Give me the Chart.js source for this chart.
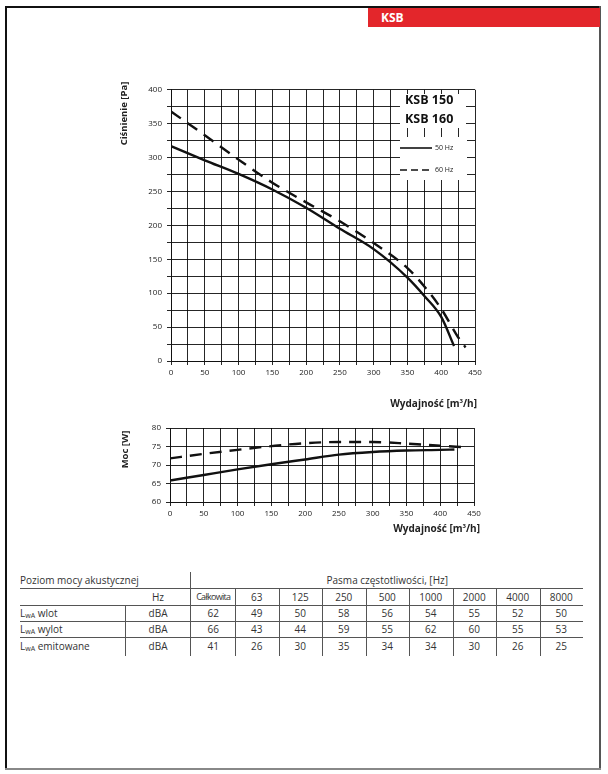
<!DOCTYPE html>
<html>
<head>
<meta charset="utf-8">
<script src="https://cdn.jsdelivr.net/npm/chart.js@4"></script>
<style>
  body { margin: 0; background: #fff; font-family: "Open Sans", sans-serif; color: #222; }
  #page { position: relative; width: 608px; height: 774px; overflow: hidden; }
  .abs { position: absolute; }
  .frame-top { left: 6px; top: 6px; width: 594px; height: 2px; background: #111; }
  .frame-left { left: 5px; top: 6px; width: 2px; height: 764px; background: #111; }
  .frame-right { left: 599px; top: 6px; width: 2px; height: 764px; background: #555; }
  .frame-bottom { left: 5px; top: 768px; width: 596px; height: 2px; background: #888; }
  .banner { left: 368px; top: 8px; width: 232px; height: 19px; background: #e3262b; color: #fff;
            font-weight: 700; font-size: 12px; line-height: 19px; padding-left: 13px; box-sizing: border-box; }
  .ytitle { font-weight: 700; font-size: 9.5px; white-space: nowrap; transform: rotate(-90deg); transform-origin: center center; }
  .xtitle { font-weight: 700; font-size: 10px; white-space: nowrap; }
  .lgbox { background: #fff; }
  .ksb { font-weight: 700; font-size: 12.5px; line-height: 16px; color: #111; }
  .hz { font-size: 7px; color: #222; }
  canvas { position: absolute; }
  .cell { position: absolute; font-size: 10px; color: #333; text-align: center; white-space: nowrap; }
  .hl { position: absolute; height: 1px; background: #555; }
  .vl { position: absolute; width: 1px; background: #555; }
  sub { font-size: 7px; vertical-align: -1px; }
</style>
</head>
<body>
<div id="page">
  <div class="abs frame-top"></div>
  <div class="abs frame-left"></div>
  <div class="abs frame-right"></div>
  <div class="abs frame-bottom"></div>
  <div class="abs banner">KSB</div>

  <canvas id="pressChart" width="400" height="320" style="left:100px;top:80px;"></canvas>
  <canvas id="powerChart" width="400" height="130" style="left:100px;top:415px;"></canvas>

  <div class="abs ytitle" style="left:88px;top:107px;width:70px;text-align:center;">Ciśnienie [Pa]</div>
  <div class="abs xtitle" style="left:377px;top:396px;width:100px;text-align:right;">Wydajność [m<sup style="font-size:6px">3</sup>/h]</div>
  <div class="abs ytitle" style="left:99px;top:443px;width:50px;text-align:center;">Moc [W]</div>
  <div class="abs xtitle" style="left:380px;top:521px;width:100px;text-align:right;">Wydajność [m<sup style="font-size:6px">3</sup>/h]</div>

  <div class="abs lgbox" style="left:400px;top:94px;width:66px;height:34px;"></div>
  <div class="abs lgbox" style="left:400px;top:137px;width:67px;height:43px;"></div>
  <div class="abs ksb" style="left:405px;top:92px;">KSB 150</div>
  <div class="abs ksb" style="left:405px;top:111px;">KSB 160</div>
  <svg class="abs" style="left:400px;top:140px;" width="34" height="36">
    <line x1="0" y1="8" x2="32" y2="8" stroke="#111" stroke-width="1.6"/>
    <line x1="0" y1="30" x2="32" y2="30" stroke="#111" stroke-width="1.6" stroke-dasharray="7,4"/>
  </svg>
  <div class="abs hz" style="left:435px;top:143px;">50 Hz</div>
  <div class="abs hz" style="left:435px;top:165px;">60 Hz</div>

  <div id="table"></div>
</div>

<script>
// pressure curves [m3/h -> Pa]
const flow50 = [0, 50, 100, 150, 200, 250, 300, 350, 375, 400, 419];
const pres50 = [317, 296, 276, 253, 226, 195, 165, 123, 96, 65, 22];
const flow60 = [0, 50, 100, 150, 200, 250, 300, 350, 375, 400, 425, 436];
const pres60 = [368, 333, 297, 263, 234, 206, 174, 137, 110, 77, 35, 20];

// power curves [m3/h -> W]
const flowP50 = [0, 50, 100, 150, 200, 250, 300, 350, 400, 421];
const pow50 = [65.8, 67.3, 68.8, 70.2, 71.5, 72.8, 73.5, 73.9, 74.1, 74.2];
const flowP60 = [0, 50, 100, 150, 200, 250, 300, 350, 400, 436];
const pow60 = [71.8, 73.0, 74.1, 75.1, 75.9, 76.2, 76.2, 75.8, 75.2, 74.8];

// sound table
const freqCols = ["Całkowita", "63", "125", "250", "500", "1000", "2000", "4000", "8000"];
const rowNames = ["wlot", "wylot", "emitowane"];
const lwaWlot = [62, 49, 50, 58, 56, 54, 55, 52, 50];
const lwaWylot = [66, 43, 44, 59, 55, 62, 60, 55, 53];
const lwaEmit = [41, 26, 30, 35, 34, 34, 30, 26, 25];

const pts = (xs, ys) => xs.map((x, i) => ({ x: x, y: ys[i] }));

const gridColor = "rgba(0,0,0,0.85)";
const tickFont = { family: "Open Sans", size: 8 };

function line(data, dashed) {
    return {
        data: data,
        showLine: true,
        borderColor: "#111",
        borderWidth: 2.4,
        borderDash: dashed ? [12, 8] : [],
        pointRadius: 0,
        cubicInterpolationMode: "monotone",
        fill: false
    };
}

function makeChart(id, datasets, yMin, yMax, yStep, yLabelEvery, pad, xH) {
    return new Chart(document.getElementById(id), {
        type: "scatter",
        data: { datasets: datasets },
        options: {
            responsive: false,
            animation: false,
            devicePixelRatio: 1,
            layout: { padding: pad },
            plugins: { legend: { display: false }, tooltip: { enabled: false } },
            scales: {
                x: {
                    type: "linear",
                    min: 0,
                    max: 450,
                    afterFit: s => { s.height = xH; },
                    ticks: {
                        stepSize: 25,
                        autoSkip: false,
                        maxRotation: 0,
                        padding: 3,
                        color: "#222",
                        font: tickFont,
                        callback: v => (v % 50 === 0 ? v : "")
                    },
                    grid: { color: gridColor, lineWidth: 1, tickLength: 4 },
                    border: { color: "#111", width: 1 }
                },
                y: {
                    min: yMin,
                    max: yMax,
                    afterFit: s => { s.width = 70 + (id === "pressChart" ? 1 : 0); },
                    ticks: {
                        stepSize: yStep,
                        autoSkip: false,
                        padding: 5,
                        color: "#222",
                        font: tickFont,
                        callback: v => (v % yLabelEvery === 0 ? v : "")
                    },
                    grid: { color: gridColor, lineWidth: 1, tickLength: 4 },
                    border: { color: "#111", width: 1 }
                }
            }
        }
    });
}

makeChart("pressChart",
    [line(pts(flow50, pres50), false), line(pts(flow60, pres60), true)],
    0, 400, 25, 50, { left: 0, right: 25, top: 9, bottom: 0 }, 39);

makeChart("powerChart",
    [line(pts(flowP50, pow50), false), line(pts(flowP60, pow60), true)],
    60, 80, 5, 5, { left: 0, right: 26, top: 13, bottom: 0 }, 43);

// table
const table = document.getElementById("table");
const colX0 = 191.5, colW = 43.5, tLeft = 20, tRight = 583;

function add(cls, style, html) {
    const d = document.createElement("div");
    d.className = cls;
    d.setAttribute("style", style);
    if (html !== undefined) d.innerHTML = html;
    table.appendChild(d);
}

add("cell", `left:${tLeft}px;top:573px;text-align:left;`, "Poziom mocy akustycznej");
add("cell", `left:${colX0}px;top:573px;width:${tRight - colX0}px;`, "Pasma częstotliwości, [Hz]");
add("cell", `left:125px;top:590px;width:66px;`, "Hz");

freqCols.forEach((c, i) => {
    const fs = i === 0 ? "font-size:9px;letter-spacing:-0.7px;top:590px;" : "top:590px;";
    add("cell", `left:${colX0 + i * colW}px;width:${colW}px;${fs}`, c);
});

const rows = [lwaWlot, lwaWylot, lwaEmit];
const rowTop = [606, 622, 639];
rows.forEach((r, ri) => {
    add("cell", `left:${tLeft}px;top:${rowTop[ri]}px;text-align:left;`, `L<sub>wA</sub> ${rowNames[ri]}`);
    add("cell", `left:125px;top:${rowTop[ri]}px;width:66px;`, "dBA");
    r.forEach((v, i) => {
        add("cell", `left:${colX0 + i * colW}px;top:${rowTop[ri]}px;width:${colW}px;`, v);
    });
});

[588, 605, 621, 637].forEach(y => add("hl", `left:${tLeft}px;top:${y}px;width:${tRight - tLeft}px;`));
add("vl", `left:190px;top:572px;height:84px;`);
add("vl", `left:125px;top:605px;height:51px;`);
for (let i = 1; i < freqCols.length; i++) {
    add("vl", `left:${Math.round(colX0 + i * colW)}px;top:588px;height:68px;`);
}
</script>
</body>
</html>
